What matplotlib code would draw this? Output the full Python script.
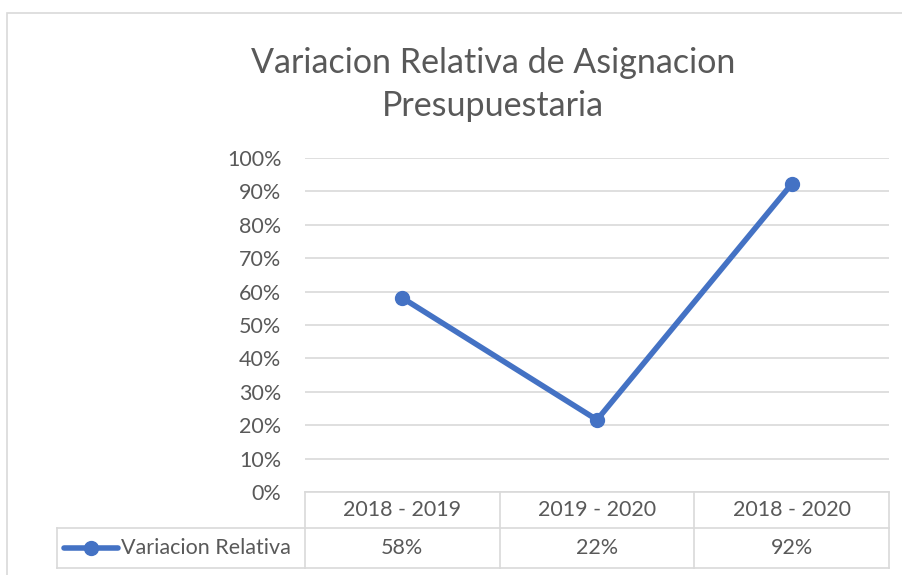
import matplotlib.pyplot as plt
from matplotlib.patches import Rectangle
from matplotlib.lines import Line2D

# data
periods = ['2018 - 2019', '2019 - 2020', '2018 - 2020']
variacion = [0.581, 0.216, 0.922]
series_name = 'Variacion Relativa'
y_ticks = [0.0, 0.1, 0.2, 0.3, 0.4, 0.5, 0.6, 0.7, 0.8, 0.9, 1.0]

BLUE = '#4472C4'
TEXT = '#595959'
GRID = '#D9D9D9'

plt.rcParams['font.family'] = ['Lato', 'DejaVu Sans']

W, H = 903, 575
fig = plt.figure(figsize=(W / 100, H / 100), dpi=100)

def fx(px):
    return px / W

def fy(py):
    return 1 - py / H

# outer chart border (cut by the image edge on the right and bottom)
fig.patches.append(Rectangle((fx(7), fy(600)), fx(920) - fx(7), fy(13) - fy(600),
                             transform=fig.transFigure, fill=False,
                             edgecolor=GRID, linewidth=1.2))

fig.text(fx(493), fy(63), 'Variacion Relativa de Asignacion',
         ha='center', va='center', fontsize=24.5, color=TEXT)
fig.text(fx(493), fy(106), 'Presupuestaria',
         ha='center', va='center', fontsize=24.5, color=TEXT)

left, right, top, bottom = 305, 889, 158, 492
ax = fig.add_axes([fx(left), fy(bottom), fx(right) - fx(left), fy(top) - fy(bottom)])

x = list(range(len(periods)))
ax.plot(x, variacion, color=BLUE, linewidth=4, marker='o', markersize=10,
        solid_capstyle='round', zorder=3)

ax.set_xlim(-0.5, len(periods) - 0.5)
ax.set_ylim(0, 1)
ax.set_yticks(y_ticks)
ax.set_yticklabels([f'{int(round(t * 100))}%' for t in y_ticks])
ax.tick_params(axis='y', length=0, pad=17, labelsize=15.5, labelcolor=TEXT)
ax.set_xticks([])
ax.grid(axis='y', color=GRID, linewidth=1.2)
ax.set_axisbelow(True)
for s in ax.spines.values():
    s.set_visible(False)

# data table below the plot
row1 = (528 - bottom) / (bottom - top)
row2 = (568 - bottom) / (bottom - top)
legend_left = -0.5 + (57 - left) / (right - left) * len(periods)
kw = dict(color=GRID, linewidth=1.2, clip_on=False, transform=ax.get_xaxis_transform())
for xv in [i - 0.5 for i in range(len(periods) + 1)]:
    ax.add_line(Line2D([xv, xv], [0, -row2], **kw))
ax.add_line(Line2D([-0.5, len(periods) - 0.5], [0, 0], **kw))
ax.add_line(Line2D([legend_left, len(periods) - 0.5], [-row1, -row1], **kw))
ax.add_line(Line2D([legend_left, len(periods) - 0.5], [-row2, -row2], **kw))
ax.add_line(Line2D([legend_left, legend_left], [-row1, -row2], **kw))

tr = ax.get_xaxis_transform()
for i, p in enumerate(periods):
    ax.text(i, -row1 / 2, p, ha='center', va='center', fontsize=15.5, color=TEXT,
            transform=tr, clip_on=False)
    ax.text(i, -(row1 + row2) / 2, f'{variacion[i]:.0%}', ha='center', va='center',
            fontsize=15.5, color=TEXT, transform=tr, clip_on=False)

# legend key inside the table
ky = fy(548)
fig.add_artist(Line2D([fx(64), fx(118)], [ky, ky], color=BLUE, linewidth=4,
                      solid_capstyle='round', transform=fig.transFigure))
fig.add_artist(Line2D([fx(91)], [ky], color=BLUE, marker='o', markersize=10,
                      transform=fig.transFigure))
fig.text(fx(121), ky, series_name, ha='left', va='center', fontsize=15.5, color=TEXT)

fig.savefig('out.png', dpi=100)
